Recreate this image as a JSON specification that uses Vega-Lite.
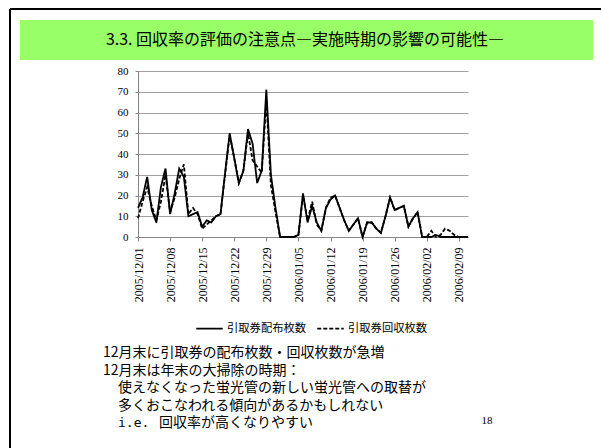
{
  "$schema": "https://vega.github.io/schema/vega-lite/v6.json",
  "width": 330,
  "height": 166,
  "autosize": {"type": "none"},
  "padding": {"left": 138, "top": 71, "right": 133, "bottom": 211},
  "background": "white",
  "config": {"view": {"stroke": null}, "font": "Noto Sans CJK JP"},
  "layer": [
    {
      "data": {"values": [{}]},
      "mark": {"type": "rule", "color": "black", "strokeWidth": 2},
      "encoding": {"x": {"value": -128}, "x2": {"value": 463}, "y": {"value": -62}}
    },
    {
      "data": {"values": [{}]},
      "mark": {"type": "rule", "color": "black", "strokeWidth": 2},
      "encoding": {"x": {"value": -128}, "y": {"value": -62}, "y2": {"value": 377}}
    },
    {
      "data": {"values": [{}]},
      "mark": {"type": "rect", "color": "#99ff66"},
      "encoding": {"x": {"value": -118}, "x2": {"value": 455}, "y": {"value": -51}, "y2": {"value": -11}}
    },
    {
      "data": {"values": [{}]},
      "mark": {"type": "text", "text": "3.3. 回収率の評価の注意点―実施時期の影響の可能性―", "font": "Noto Sans CJK JP", "fontSize": 16, "align": "center", "baseline": "middle", "color": "black"},
      "encoding": {"x": {"value": 167}, "y": {"value": -31}}
    },
    {
      "data": {"values": [{}]},
      "mark": {"type": "text", "text": "12月末に引取券の配布枚数・回収枚数が急増", "font": "Noto Sans CJK JP", "fontSize": 14, "align": "left", "baseline": "middle", "color": "black"},
      "encoding": {"x": {"value": -35}, "y": {"value": 282}}
    },
    {
      "data": {"values": [{}]},
      "mark": {"type": "text", "text": "12月末は年末の大掃除の時期：", "font": "Noto Sans CJK JP", "fontSize": 14, "align": "left", "baseline": "middle", "color": "black"},
      "encoding": {"x": {"value": -35}, "y": {"value": 299.5}}
    },
    {
      "data": {"values": [{}]},
      "mark": {"type": "text", "text": "使えなくなった蛍光管の新しい蛍光管への取替が", "font": "Noto Sans CJK JP", "fontSize": 14, "align": "left", "baseline": "middle", "color": "black"},
      "encoding": {"x": {"value": -20}, "y": {"value": 317}}
    },
    {
      "data": {"values": [{}]},
      "mark": {"type": "text", "text": "多くおこなわれる傾向があるかもしれない", "font": "Noto Sans CJK JP", "fontSize": 14, "align": "left", "baseline": "middle", "color": "black"},
      "encoding": {"x": {"value": -20}, "y": {"value": 334.5}}
    },
    {
      "data": {"values": [{}]},
      "mark": {"type": "text", "text": "i.e.", "font": "DejaVu Sans Mono", "fontSize": 13, "align": "left", "baseline": "middle", "color": "black"},
      "encoding": {"x": {"value": -20}, "y": {"value": 352}}
    },
    {
      "data": {"values": [{}]},
      "mark": {"type": "text", "text": "回収率が高くなりやすい", "font": "Noto Sans CJK JP", "fontSize": 14, "align": "left", "baseline": "middle", "color": "black"},
      "encoding": {"x": {"value": 21}, "y": {"value": 352}}
    },
    {
      "data": {"values": [{}]},
      "mark": {"type": "text", "text": "18", "font": "Liberation Serif", "fontSize": 11, "align": "center", "baseline": "middle", "color": "black"},
      "encoding": {"x": {"value": 349}, "y": {"value": 350}}
    },
    {
      "data": {"values": [
        {"date": "2005/12/01", "引取券配布枚数": 14, "引取券回収枚数": 9},
        {"date": "2005/12/02", "引取券配布枚数": 19, "引取券回収枚数": 17},
        {"date": "2005/12/03", "引取券配布枚数": 29, "引取券回収枚数": 24},
        {"date": "2005/12/04", "引取券配布枚数": 13, "引取券回収枚数": 15},
        {"date": "2005/12/05", "引取券配布枚数": 7, "引取券回収枚数": 8},
        {"date": "2005/12/06", "引取券配布枚数": 24, "引取券回収枚数": 17},
        {"date": "2005/12/07", "引取券配布枚数": 33, "引取券回収枚数": 30},
        {"date": "2005/12/08", "引取券配布枚数": 11, "引取券回収枚数": 12},
        {"date": "2005/12/09", "引取券配布枚数": 21, "引取券回収枚数": 19},
        {"date": "2005/12/10", "引取券配布枚数": 33, "引取券回収枚数": 28},
        {"date": "2005/12/11", "引取券配布枚数": 29, "引取券回収枚数": 35},
        {"date": "2005/12/12", "引取券配布枚数": 10, "引取券回収枚数": 11},
        {"date": "2005/12/13", "引取券配布枚数": 11, "引取券回収枚数": 14},
        {"date": "2005/12/14", "引取券配布枚数": 12, "引取券回収枚数": 11},
        {"date": "2005/12/15", "引取券配布枚数": 5, "引取券回収枚数": 4},
        {"date": "2005/12/16", "引取券配布枚数": 8, "引取券回収枚数": 6},
        {"date": "2005/12/17", "引取券配布枚数": 7, "引取券回収枚数": 8},
        {"date": "2005/12/18", "引取券配布枚数": 10, "引取券回収枚数": 10},
        {"date": "2005/12/19", "引取券配布枚数": 11, "引取券回収枚数": 11},
        {"date": "2005/12/20", "引取券配布枚数": 31, "引取券回収枚数": 30},
        {"date": "2005/12/21", "引取券配布枚数": 50, "引取券回収枚数": 49},
        {"date": "2005/12/22", "引取券配布枚数": 38, "引取券回収枚数": 38},
        {"date": "2005/12/23", "引取券配布枚数": 26, "引取券回収枚数": 26},
        {"date": "2005/12/24", "引取券配布枚数": 32, "引取券回収枚数": 32},
        {"date": "2005/12/25", "引取券配布枚数": 52, "引取券回収枚数": 50},
        {"date": "2005/12/26", "引取券配布枚数": 45, "引取券回収枚数": 37},
        {"date": "2005/12/27", "引取券配布枚数": 26, "引取券回収枚数": 34},
        {"date": "2005/12/28", "引取券配布枚数": 32, "引取券回収枚数": 31},
        {"date": "2005/12/29", "引取券配布枚数": 71, "引取券回収枚数": 66},
        {"date": "2005/12/30", "引取券配布枚数": 30, "引取券回収枚数": 25},
        {"date": "2005/12/31", "引取券配布枚数": 14, "引取券回収枚数": 12},
        {"date": "2006/01/01", "引取券配布枚数": 0, "引取券回収枚数": 0},
        {"date": "2006/01/02", "引取券配布枚数": 0, "引取券回収枚数": 0},
        {"date": "2006/01/03", "引取券配布枚数": 0, "引取券回収枚数": 0},
        {"date": "2006/01/04", "引取券配布枚数": 0, "引取券回収枚数": 0},
        {"date": "2006/01/05", "引取券配布枚数": 1, "引取券回収枚数": 1},
        {"date": "2006/01/06", "引取券配布枚数": 21, "引取券回収枚数": 20},
        {"date": "2006/01/07", "引取券配布枚数": 7, "引取券回収枚数": 8},
        {"date": "2006/01/08", "引取券配布枚数": 15, "引取券回収枚数": 17},
        {"date": "2006/01/09", "引取券配布枚数": 7, "引取券回収枚数": 6},
        {"date": "2006/01/10", "引取券配布枚数": 3, "引取券回収枚数": 3},
        {"date": "2006/01/11", "引取券配布枚数": 14, "引取券回収枚数": 14},
        {"date": "2006/01/12", "引取券配布枚数": 18, "引取券回収枚数": 19},
        {"date": "2006/01/13", "引取券配布枚数": 20, "引取券回収枚数": 20},
        {"date": "2006/01/14", "引取券配布枚数": 14, "引取券回収枚数": 14},
        {"date": "2006/01/15", "引取券配布枚数": 8, "引取券回収枚数": 8},
        {"date": "2006/01/16", "引取券配布枚数": 3, "引取券回収枚数": 3},
        {"date": "2006/01/17", "引取券配布枚数": 6, "引取券回収枚数": 6},
        {"date": "2006/01/18", "引取券配布枚数": 9, "引取券回収枚数": 9},
        {"date": "2006/01/19", "引取券配布枚数": 0, "引取券回収枚数": 0},
        {"date": "2006/01/20", "引取券配布枚数": 7, "引取券回収枚数": 7},
        {"date": "2006/01/21", "引取券配布枚数": 7, "引取券回収枚数": 7},
        {"date": "2006/01/22", "引取券配布枚数": 4, "引取券回収枚数": 4},
        {"date": "2006/01/23", "引取券配布枚数": 2, "引取券回収枚数": 2},
        {"date": "2006/01/24", "引取券配布枚数": 10, "引取券回収枚数": 10},
        {"date": "2006/01/25", "引取券配布枚数": 19, "引取券回収枚数": 19},
        {"date": "2006/01/26", "引取券配布枚数": 13, "引取券回収枚数": 13},
        {"date": "2006/01/27", "引取券配布枚数": 14, "引取券回収枚数": 14},
        {"date": "2006/01/28", "引取券配布枚数": 15, "引取券回収枚数": 15},
        {"date": "2006/01/29", "引取券配布枚数": 5, "引取券回収枚数": 5},
        {"date": "2006/01/30", "引取券配布枚数": 9, "引取券回収枚数": 9},
        {"date": "2006/01/31", "引取券配布枚数": 12, "引取券回収枚数": 12},
        {"date": "2006/02/01", "引取券配布枚数": 0, "引取券回収枚数": 0},
        {"date": "2006/02/02", "引取券配布枚数": 0, "引取券回収枚数": 0},
        {"date": "2006/02/03", "引取券配布枚数": 0, "引取券回収枚数": 3},
        {"date": "2006/02/04", "引取券配布枚数": 1, "引取券回収枚数": 0},
        {"date": "2006/02/05", "引取券配布枚数": 0, "引取券回収枚数": 1},
        {"date": "2006/02/06", "引取券配布枚数": 0, "引取券回収枚数": 4},
        {"date": "2006/02/07", "引取券配布枚数": 0, "引取券回収枚数": 3},
        {"date": "2006/02/08", "引取券配布枚数": 0, "引取券回収枚数": 1},
        {"date": "2006/02/09", "引取券配布枚数": 0, "引取券回収枚数": 0},
        {"date": "2006/02/10", "引取券配布枚数": 0, "引取券回収枚数": 0},
        {"date": "2006/02/11", "引取券配布枚数": 0, "引取券回収枚数": 0}
      ]},
      "transform": [{"fold": ["引取券配布枚数", "引取券回収枚数"], "as": ["系列", "枚数"]}],
      "mark": {"type": "line", "color": "black", "strokeWidth": 1.8},
      "encoding": {
        "x": {
          "field": "date",
          "type": "temporal",
          "scale": {"domain": [{"year": 2005, "month": 12, "date": 1}, {"year": 2006, "month": 2, "date": 11}]},
          "axis": {
            "values": [
              {"year": 2005, "month": 12, "date": 1},
              {"year": 2005, "month": 12, "date": 8},
              {"year": 2005, "month": 12, "date": 15},
              {"year": 2005, "month": 12, "date": 22},
              {"year": 2005, "month": 12, "date": 29},
              {"year": 2006, "month": 1, "date": 5},
              {"year": 2006, "month": 1, "date": 12},
              {"year": 2006, "month": 1, "date": 19},
              {"year": 2006, "month": 1, "date": 26},
              {"year": 2006, "month": 2, "date": 2},
              {"year": 2006, "month": 2, "date": 9}
            ],
            "format": "%Y/%m/%d",
            "labelAngle": 270,
            "labelFont": "Liberation Serif",
            "labelFontSize": 12,
            "labelColor": "black",
            "title": null,
            "grid": false,
            "tickSize": 4,
            "tickColor": "#868686",
            "domainColor": "#868686",
            "labelPadding": 6,
            "labelBound": false,
            "labelOverlap": false,
            "labelFlush": false
          }
        },
        "y": {
          "field": "枚数",
          "type": "quantitative",
          "scale": {"domain": [0, 80]},
          "axis": {
            "values": [0, 10, 20, 30, 40, 50, 60, 70, 80],
            "title": null,
            "grid": true,
            "gridColor": "#a0a0a0",
            "labelFont": "Liberation Serif",
            "labelFontSize": 11,
            "labelColor": "black",
            "tickSize": 3,
            "tickColor": "#868686",
            "domainColor": "#868686",
            "labelPadding": 7
          }
        },
        "strokeDash": {
          "field": "系列",
          "type": "nominal",
          "sort": ["引取券配布枚数", "引取券回収枚数"],
          "scale": {"domain": ["引取券配布枚数", "引取券回収枚数"], "range": [[1, 0], [4, 2]]},
          "legend": {
            "orient": "none",
            "legendX": 57,
            "legendY": 243,
            "direction": "horizontal",
            "title": null,
            "symbolType": "stroke",
            "symbolSize": 700,
            "symbolStrokeWidth": 1.8,
            "symbolStrokeColor": "black",
            "labelFont": "Noto Sans CJK JP",
            "labelFontSize": 11.3,
            "labelColor": "black",
            "labelOffset": 3,
            "columnPadding": 6
          }
        }
      }
    }
  ]
}
